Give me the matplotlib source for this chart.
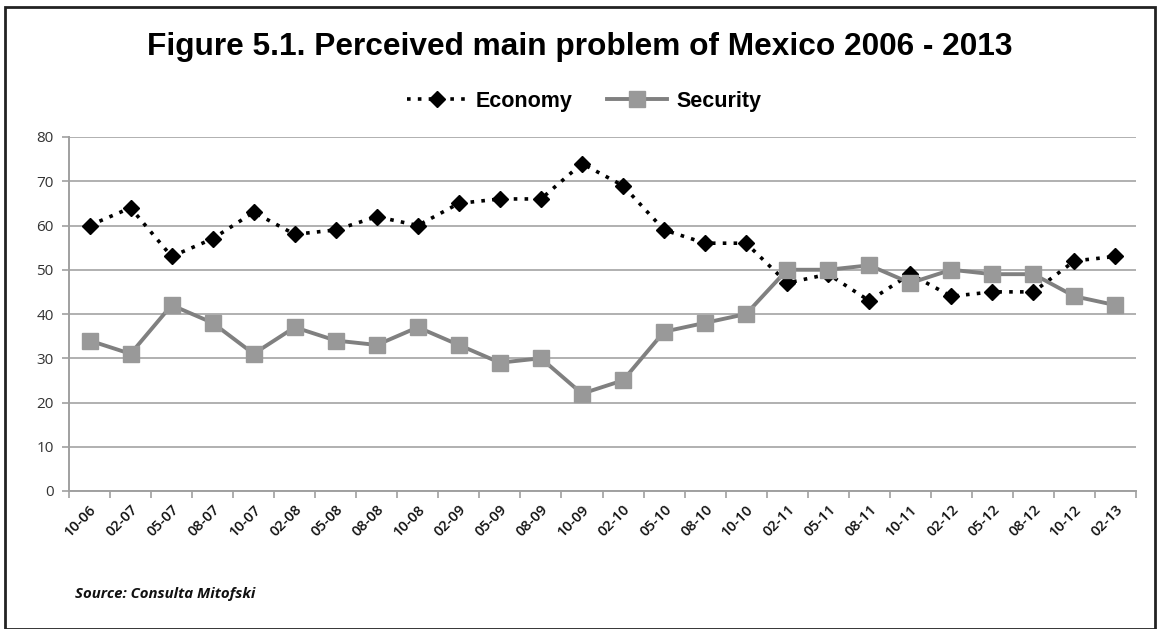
import matplotlib
matplotlib.use("Agg")
import matplotlib.pyplot as plt
from matplotlib.patches import Rectangle
import numpy as np

categories = ["10-06", "02-07", "05-07", "08-07", "10-07", "02-08", "05-08", "08-08",
              "10-08", "02-09", "05-09", "08-09", "10-09", "02-10", "05-10", "08-10",
              "10-10", "02-11", "05-11", "08-11", "10-11", "02-12", "05-12", "08-12",
              "10-12", "02-13"]
economy = [60, 64, 53, 57, 63, 58, 59, 62, 60, 65, 66, 66, 74, 69, 59, 56, 56,
           47, 49, 43, 49, 44, 45, 45, 52, 53]
security = [34, 31, 42, 38, 31, 37, 34, 33, 37, 33, 29, 30, 22, 25, 36, 38, 40,
            50, 50, 51, 47, 50, 49, 49, 44, 42]
yticks = [0, 10, 20, 30, 40, 50, 60, 70, 80]

W, H = 1160, 629
fig = plt.figure(figsize=(W / 100, H / 100), dpi=100)
fig.patch.set_facecolor("white")

# outer frame
fig.patches.append(Rectangle((5 / W, 0), (1155 - 5) / W, (629 - 7) / H,
                             transform=fig.transFigure, fill=False,
                             edgecolor="#222222", linewidth=2.0))

left, right, top, bottom = 69, 1136, 137, 491
ax = fig.add_axes([left / W, 1 - bottom / H, (right - left) / W, (bottom - top) / H])

x = np.arange(len(categories))
ax.plot(x, economy, color="black", linestyle=(0, (1, 2)), linewidth=2.6,
        marker="D", markersize=8.5, markerfacecolor="black", markeredgecolor="black",
        label="Economy", zorder=3)
ax.plot(x, security, color="#808080", linestyle="-", linewidth=2.8,
        marker="s", markersize=11, markerfacecolor="#999999", markeredgecolor="#999999",
        label="Security", zorder=4)

ax.set_xlim(-0.5, len(categories) - 0.5)
ax.set_ylim(0, 80)
ax.set_yticks(yticks)
ax.set_yticklabels([str(v) for v in yticks], fontsize=11, color="#333333",
                   family="Open Sans")
ax.yaxis.grid(True, color="#b0b0b0", linewidth=1.4)
ax.set_axisbelow(True)

ax.set_xticks(x)
ax.set_xticklabels(categories, rotation=45, ha="right", rotation_mode="anchor",
                   fontsize=10.5, color="#111111", family="Open Sans", fontweight="semibold")
ax.tick_params(axis="x", length=0, pad=8)
ax.set_xticks(np.arange(len(categories) + 1) - 0.5, minor=True)
ax.tick_params(axis="x", which="minor", length=5, color="#a0a0a0", width=1.2)
ax.tick_params(axis="y", length=5, color="#a0a0a0", width=1.2, pad=6)

for s in ["top", "right"]:
    ax.spines[s].set_visible(False)
for s in ["left", "bottom"]:
    ax.spines[s].set_color("#a0a0a0")
    ax.spines[s].set_linewidth(1.4)

fig.text(580 / W, 1 - 47 / H, "Figure 5.1. Perceived main problem of Mexico 2006 - 2013",
         ha="center", va="center", fontsize=22.8, fontweight="bold",
         family="Liberation Sans")

leg = fig.legend(loc="center", bbox_to_anchor=(584 / W, 1 - 101 / H), ncol=2,
                 frameon=False, prop={"family": "Liberation Sans", "weight": "bold", "size": 15.5},
                 handlelength=2.8, handletextpad=0.4, columnspacing=1.6)

fig.text(75 / W, 1 - 594 / H, "Source: Consulta Mitofski", ha="left", va="center",
         fontsize=10.8, fontweight="bold", fontstyle="italic", family="Open Sans",
         color="#111111")

fig.savefig("out.png", dpi=100, facecolor="white")
